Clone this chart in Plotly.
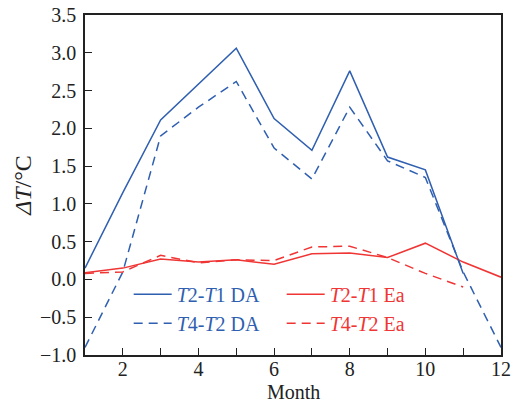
import plotly.graph_objects as go

months = list(range(1, 13))
months_11 = list(range(1, 12))

t2t1_da = [0.15, 1.15, 2.11, 2.58, 3.06, 2.13, 1.71, 2.76, 1.62, 1.45, 0.08]
t4t2_da = [-0.90, 0.10, 1.90, 2.28, 2.62, 1.74, 1.33, 2.28, 1.57, 1.35, 0.10, -0.90]
t2t1_ea = [0.09, 0.15, 0.27, 0.23, 0.26, 0.20, 0.34, 0.35, 0.29, 0.48, 0.23, 0.03]
t4t2_ea = [0.08, 0.10, 0.32, 0.22, 0.26, 0.25, 0.43, 0.44, 0.29, 0.08, -0.10]

BLUE = "#2f5fb0"
RED = "#f03535"
FONT = "Liberation Serif"

def nm(a, b, suffix, color):
    return (f'<span style="color:{color}"><i>T</i>{a}-<i>T</i>{b} {suffix}</span>')

fig = go.Figure()
fig.add_trace(go.Scatter(x=months_11, y=t2t1_da, mode="lines",
                         line=dict(color=BLUE, width=1.5),
                         name=nm(2, 1, "DA", BLUE)))
fig.add_trace(go.Scatter(x=months, y=t2t1_ea, mode="lines",
                         line=dict(color=RED, width=1.5),
                         name=nm(2, 1, "Ea", RED)))
fig.add_trace(go.Scatter(x=months, y=t4t2_da, mode="lines",
                         line=dict(color=BLUE, width=1.5, dash="9px,6px"),
                         name=nm(4, 2, "DA", BLUE)))
fig.add_trace(go.Scatter(x=months_11, y=t4t2_ea, mode="lines",
                         line=dict(color=RED, width=1.5, dash="9px,6px"),
                         name=nm(4, 2, "Ea", RED)))

fig.update_layout(
    width=514, height=406,
    margin=dict(l=85, r=13, t=15, b=51),
    paper_bgcolor="white", plot_bgcolor="white",
    font=dict(family=FONT, size=20, color="#222"),
    showlegend=True,
    legend=dict(orientation="h", x=0.105, y=0.236, xanchor="left", yanchor="top",
                entrywidth=100, itemwidth=38, bgcolor="rgba(0,0,0,0)",
                font=dict(family=FONT, size=20), tracegroupgap=0),
    xaxis=dict(range=[1, 12], tickvals=[2, 4, 6, 8, 10, 12],
               minor=dict(tickvals=months, ticks="inside", ticklen=7, tickcolor="#222"),
               ticks="inside", ticklen=7, tickcolor="#222",
               showline=True, linecolor="#222", linewidth=1.5, mirror=True,
               showgrid=False, zeroline=False, automargin=False,
               ticklabelstandoff=-5,
               tickfont=dict(size=20)),
    yaxis=dict(range=[-1.0, 3.5], tickvals=[-1.0, -0.5, 0, 0.5, 1.0, 1.5, 2.0, 2.5, 3.0, 3.5],
               tickformat=".1f",
               ticks="inside", ticklen=7, tickcolor="#222",
               showline=True, linecolor="#222", linewidth=1.5, mirror=True,
               showgrid=False, zeroline=False, automargin=False,
               ticklabelstandoff=3,
               title=dict(text="<i>ΔT</i>/°C", standoff=2),
               tickfont=dict(size=20)),
    annotations=[dict(text="Month", xref="paper", yref="paper", x=0.5, y=0,
                      xanchor="center", yanchor="top", yshift=-24, showarrow=False,
                      font=dict(family=FONT, size=20, color="#222"))],
)

fig.write_html("out.html")
